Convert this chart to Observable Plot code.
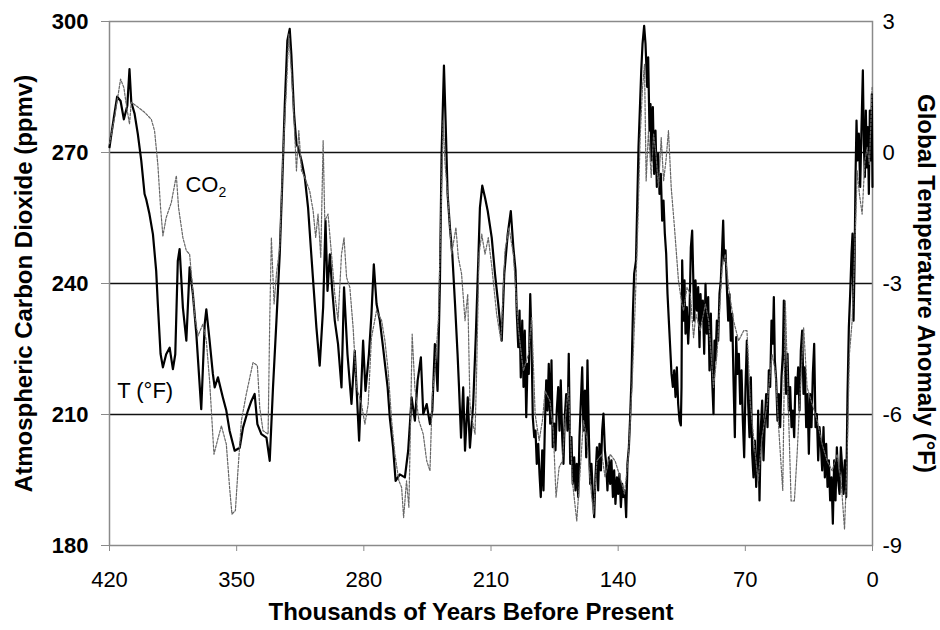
<!DOCTYPE html>
<html>
<head>
<meta charset="utf-8">
<script src="https://cdn.jsdelivr.net/npm/d3@7"></script>
<script src="https://cdn.jsdelivr.net/npm/@observablehq/plot@0.6"></script>
<style>
  html, body { margin: 0; padding: 0; background: #fff; }
  #chart { width: 940px; height: 630px; }
</style>
</head>
<body>
<div id="chart"></div>
<script>
// ---- Data ----
// Temperature record: age (thousands of years before present) and anomaly (°F)
const ageT = [420.0,419.1,417.6,415.8,413.9,412.1,410.2,409.0,408.0,406.2,
404.4,402.5,400.7,399.8,398.0,396.1,394.3,393.4,391.9,390.6,
388.8,386.9,385.1,383.8,382.4,381.4,379.6,377.7,375.9,374.1,
372.2,369.5,367.6,366.7,364.9,363.1,362.1,360.3,357.6,355.7,
353.9,351.1,348.3,346.5,343.8,341.9,340.1,338.6,336.4,333.6,
331.8,330.0,328.1,326.3,325.0,323.5,322.1,320.8,319.9,318.4,
317.1,316.2,314.3,312.5,310.7,309.2,307.9,306.1,304.3,302.4,
301.1,300.0,298.7,297.5,296.0,294.2,292.3,290.9,289.0,286.8,
285.0,282.6,280.4,279.1,277.2,275.8,274.5,273.0,271.2,269.4,
266.9,265.7,263.9,262.5,260.2,257.4,255.6,253.7,251.9,250.4,
248.6,247.3,245.4,243.6,242.3,240.9,239.4,238.1,237.2,235.9,
235.0,233.9,232.6,231.3,229.8,228.4,227.6,226.5,225.3,224.3,
222.8,221.6,219.8,218.4,217.0,216.1,214.8,213.3,211.8,209.6,
207.8,206.0,204.1,202.7,200.8,199.1,197.7,
196.5,195.8,195.0,194.3,193.6,192.8,192.1,191.4,190.6,189.9,
189.2,188.4,187.7,187.0,186.2,185.5,184.8,184.0,183.3,182.6,
181.8,181.1,180.4,179.6,178.9,178.2,177.4,176.7,176.0,175.2,
174.5,173.8,173.0,172.3,171.6,170.8,170.1,169.4,168.6,167.9,
167.2,166.4,165.7,165.0,164.2,163.5,162.8,162.0,161.3,160.6,
159.8,159.1,158.3,157.6,156.9,156.1,155.4,154.7,153.9,153.2,
152.5,151.7,151.0,150.3,149.5,148.8,148.1,147.3,146.6,145.9,
145.1,144.4,143.7,142.9,142.2,141.5,140.7,140.0,139.3,138.5,
137.8,137.1,136.3,135.6,134.9,134.1,133.4,132.7,131.9,131.2,
130.2,128.8,127.3,126.6,125.7,
124.95,124.03,123.48,122.75,122.20,121.65,120.91,120.18,119.45,118.71,
117.98,117.24,116.51,115.78,115.04,114.31,113.57,112.84,112.11,111.37,
110.64,109.90,109.17,108.44,107.70,106.97,106.23,105.50,105.13,104.77,
104.03,103.48,102.93,102.20,101.46,100.73,99.99,99.26,98.71,98.16,
97.43,96.69,95.96,95.22,94.67,94.12,93.39,92.65,91.92,91.19,
90.45,89.72,88.99,88.25,87.52,86.97,86.42,85.68,84.95,84.22,
83.48,82.75,82.20,81.65,80.91,80.18,79.44,78.71,77.98,77.24,
76.51,75.77,75.04,74.31,73.57,72.84,72.10,71.37,70.64,69.90,
69.17,68.43,67.70,66.97,66.23,65.50,64.77,64.03,63.30,
62.93,62.20,61.46,60.73,60.00,59.26,58.53,57.79,57.06,56.33,
55.59,54.86,54.31,53.76,53.02,52.29,51.56,50.82,50.09,49.35,
48.80,48.25,47.52,46.78,46.05,45.32,44.58,43.85,43.11,42.38,
41.65,40.91,40.18,39.44,38.71,37.98,37.24,36.51,35.77,35.04,
34.31,33.57,32.84,32.10,31.37,30.64,29.90,29.17,28.43,27.70,
26.97,26.23,25.50,24.76,24.03,23.30,22.56,21.83,21.09,20.36,
19.63,18.89,18.16,17.42,16.69,15.96,15.22,14.49,13.75,13.02,
12.29,11.55,11.00,10.45,9.90,9.35,8.80,8.25,7.52,6.78,
6.05,5.31,4.76,4.21,3.66,3.11,2.56,2.01,1.46,0.91,
0.36,0.0];
const tempF = [0.12,0.38,0.80,1.28,1.18,0.76,1.07,1.91,1.15,0.89,
0.42,-0.19,-0.95,-1.07,-1.41,-1.87,-2.71,-3.47,-4.61,-4.92,
-4.62,-4.47,-4.96,-4.62,-2.48,-2.21,-3.55,-4.31,-2.63,-3.24,
-4.16,-5.88,-3.93,-3.59,-4.31,-5.07,-5.38,-5.15,-5.61,-5.91,
-6.37,-6.83,-6.76,-6.30,-5.91,-5.69,-5.53,-6.22,-6.45,-6.53,
-7.06,-5.38,-3.85,-2.33,-0.80,1.11,2.56,2.83,2.25,0.88,
0.19,0.12,-0.19,-0.57,-1.26,-2.17,-2.94,-4.01,-4.88,-3.55,
-1.56,-3.17,-2.33,-3.09,-3.85,-4.39,-5.38,-3.09,-4.62,-5.76,
-4.54,-6.60,-4.31,-5.46,-4.62,-3.70,-2.56,-3.47,-3.85,-4.47,
-5.38,-6.07,-6.76,-7.52,-7.37,-7.44,-6.83,-5.61,-6.14,-5.23,
-4.69,-5.99,-5.76,-6.22,-5.91,-4.39,-5.46,-2.94,-0.04,1.99,
0.73,-0.95,-1.72,-2.33,-3.47,-4.62,-5.38,-6.53,-5.38,-6.83,
-5.61,-6.76,-5.76,-4.24,-2.48,-1.26,-0.76,-1.03,-1.34,-1.95,
-2.78,-3.47,-4.31,-2.78,-1.87,-1.34,-2.17,
-2.70,-3.69,-4.46,-3.62,-5.15,-3.85,-5.37,-4.08,-6.06,-4.84,
-5.07,-3.24,-4.30,-6.06,-6.52,-6.37,-7.13,-6.67,-7.36,-7.89,
-6.82,-7.74,-6.37,-5.22,-5.91,-4.84,-6.21,-4.76,-6.75,-6.21,
-6.82,-5.91,-5.37,-6.37,-5.22,-6.52,-7.13,-6.06,-5.53,-6.37,
-4.61,-7.13,-6.52,-7.59,-6.98,-7.74,-7.13,-7.89,-6.52,-5.76,
-4.92,-6.37,-5.45,-6.98,-4.76,-6.52,-7.59,-7.13,-7.89,-8.35,
-7.44,-6.75,-7.74,-6.67,-7.28,-6.37,-5.98,-6.82,-7.13,-7.74,
-6.98,-7.59,-7.05,-7.89,-7.28,-8.05,-7.44,-7.82,-7.36,-8.12,
-7.59,-7.89,-7.74,-8.35,-7.13,-6.75,-6.06,-5.22,-3.69,-2.78,
-2.48,0.12,1.87,2.48,2.90,
2.49,1.50,2.18,0.50,1.11,-0.18,1.04,-0.49,0.50,-0.79,
-0.03,-0.95,-0.49,-1.56,-1.10,-1.86,-2.32,-3.24,-3.85,-4.46,
-5.07,-5.37,-4.99,-5.60,-4.92,-5.76,-6.14,-6.25,-5.37,-2.47,
-3.85,-2.93,-4.15,-3.54,-4.38,-3.69,-2.17,-1.79,-2.78,-3.85,
-2.93,-3.62,-3.08,-4.46,-3.24,-3.85,-3.39,-4.61,-3.01,-4.15,
-3.31,-4.99,-3.69,-5.22,-5.99,-4.31,-4.76,-3.85,-4.31,-3.24,
-2.93,-2.17,-1.56,-2.47,-2.24,-3.08,-3.85,-3.24,-4.31,-3.69,
-5.22,-6.52,-4.23,-5.07,-4.61,-5.76,-4.99,-6.14,-6.98,-5.37,
-4.31,-5.76,-6.52,-5.15,-6.90,-7.44,-6.60,-7.66,-6.90,
-5.91,-7.97,-6.29,-5.68,-7.05,-6.14,-5.53,-6.29,-4.99,-5.37,
-3.85,-4.38,-3.31,-4.76,-5.22,-6.14,-5.53,-6.29,-5.15,-4.61,
-3.39,-4.92,-5.53,-4.61,-5.91,-5.37,-6.29,-5.91,-6.52,-5.15,
-5.53,-4.92,-5.91,-4.53,-4.08,-5.53,-4.92,-6.29,-5.53,-6.90,
-5.53,-6.29,-5.07,-4.38,-6.29,-5.99,-7.05,-6.29,-6.67,-7.28,
-6.29,-7.44,-6.67,-7.66,-7.05,-7.97,-7.44,-8.50,-7.05,-7.97,
-6.75,-7.51,-7.82,-6.75,-7.21,-7.82,-7.05,-7.89,-5.53,-4.00,
-3.24,-2.32,-1.86,-3.85,-2.63,-0.57,0.73,-0.18,0.43,-0.79,
0.58,1.88,0.20,-0.56,0.96,-0.34,0.58,-0.95,0.96,-0.18,
1.34,-0.79];

// CO2 record: age (thousands of years before present) and concentration (ppmv)
const ageCO2 = [420.0,417.2,415.8,413.9,412.1,410.8,409.0,408.0,405.3,400.7,
397.0,395.2,393.4,391.9,390.6,388.8,386.0,383.2,382.0,379.6,
377.7,375.9,374.6,373.2,371.3,368.6,366.7,364.9,363.6,362.5,
360.6,358.4,355.7,353.9,352.6,350.7,349.3,347.4,344.7,341.0,
338.6,337.3,335.5,332.7,331.8,330.9,329.4,328.1,326.3,324.5,
322.6,321.3,319.9,318.4,317.1,315.8,314.3,312.5,309.8,307.9,
306.5,305.2,303.7,302.4,301.5,299.7,297.8,296.0,294.2,292.3,
290.9,289.5,287.7,285.9,284.0,281.3,279.4,277.6,275.8,273.0,
270.2,268.4,266.6,264.7,262.9,260.7,259.2,258.1,256.5,255.2,
254.1,253.4,251.9,249.7,247.3,245.4,243.6,242.3,240.9,239.0,
237.2,236.3,235.4,233.5,231.7,229.3,228.0,226.2,224.3,222.8,
221.6,220.3,218.8,217.9,216.6,215.1,213.3,211.5,209.6,206.9,
204.5,202.3,200.1,197.7,195.0,192.2,189.4,187.6,185.7,183.5,
181.7,180.2,177.5,175.7,174.2,172.5,170.7,169.2,167.4,165.2,
162.8,160.9,159.1,157.3,155.4,153.6,151.7,149.0,147.2,144.4,
141.7,138.9,136.5,134.3,132.4,130.6,129.1,127.9,126.6,125.5,
124.6,123.3,121.8,120.5,119.2,117.8,116.3,115.0,113.7,112.3,
110.8,109.0,106.8,104.9,104.0,102.1,100.3,98.5,97.2,94.8,
92.0,90.2,87.5,85.6,84.3,82.8,81.0,79.2,76.5,73.7,
70.9,69.1,67.2,64.9,63.0,60.8,58.0,55.3,53.5,51.3,
49.4,48.0,46.1,44.8,43.0,41.5,39.7,37.9,36.0,33.2,
30.5,27.7,25.0,22.2,19.5,17.3,15.4,13.9,12.7,11.2,
9.9,8.4,7.2,5.7,4.2,2.9,1.7,0.2];
const co2 = [272,278.0,281.8,286.8,284.9,281.1,276.5,281.5,280.7,279.2,
277.6,275.0,267.3,257.4,250.9,255.1,258.5,264.7,257.4,250.5,
247.5,246.7,240.6,233.0,228.0,230.7,226.9,217.7,208.6,200.9,
204.0,207.4,203.2,193.3,187.2,188.0,197.1,208.6,214.7,221.9,
221.2,211.6,206.3,205.5,231.5,250.5,235.3,242.2,248.3,269.6,
284.9,297.1,288.7,277.3,265.8,275.0,265.8,264.3,261.2,256.6,
250.5,255.9,246.0,272.7,254.4,255.9,246.7,237.6,231.5,246.7,
250.5,241.4,239.1,229.9,216.2,212.4,207.8,212.4,227.6,233.8,
231.5,226.9,220.0,208.6,200.9,194.8,193.3,186.4,194.8,188.7,
212.4,228.4,216.2,208.6,205.5,199.4,197.1,214.7,220.0,231.5,
262.0,277.3,268.1,258.2,246.7,252.8,246.0,242.2,231.5,237.6,
212.4,208.6,205.5,220.0,246.7,251.3,246.7,250.5,244.0,233.0,
226.9,247.5,252.8,246.7,229.9,220.0,223.8,232.2,210.1,204.0,
208.6,215.4,213.1,206.3,191.0,197.9,199.4,208.6,216.2,194.8,
185.6,197.1,208.6,204.7,194.8,187.2,199.4,200.9,195.6,200.9,
199.4,195.6,191.8,200.9,216.2,235.3,254.4,273.4,284.9,290.2,
263.5,275.0,264.3,274.2,269.6,262.0,273.4,263.5,268.1,275.0,
262.0,252.8,240.6,235.3,233.8,239.1,237.6,227.6,233.0,229.2,
235.3,231.5,216.2,223.8,233.0,243.7,246.7,239.1,231.5,226.9,
229.2,229.2,212.4,202.4,194.8,204.7,212.4,223.8,220.0,204.7,
192.6,236.0,208.6,190.2,190.2,200.9,216.2,229.9,216.2,212.4,
208.6,203.2,199.4,197.1,200.9,194.8,183.7,200.9,223.8,231.5,
246.7,265.8,260.5,255.9,268.1,271.2,267.3,284.9];

// Axis ticks
const xTicks = [420, 350, 280, 210, 140, 70, 0];
const co2Ticks = [180, 210, 240, 270, 300];
const gridLines = [210, 240, 270];

// Temperature axis shares the frame: 0 °F ↔ 270 ppmv, 1 °F ↔ 10 ppmv
const toCO2Scale = t => 270 + t * 10;
const toTemp = v => (v - 270) / 10;

const tRows = ageT.map((a, i) => ({age: a, value: toCO2Scale(tempF[i])}));
const cRows = ageCO2.map((a, i) => ({age: a, value: co2[i]}));

const FONT = "'Liberation Sans', Arial, Helvetica, sans-serif";
const GRAY = "#8a8a8a";

const chart = Plot.plot({
  width: 940,
  height: 630,
  marginLeft: 109,
  marginRight: 68,
  marginTop: 21,
  marginBottom: 85,
  style: {fontFamily: FONT, background: "#fff", color: "#000"},
  x: {domain: [420, 0]},
  y: {domain: [180, 300]},
  marks: [
    Plot.ruleY(gridLines, {stroke: "#111", strokeWidth: 1.5}),
    Plot.frame({stroke: GRAY, strokeWidth: 1.5}),
    Plot.axisY({
      anchor: "left", ticks: co2Ticks, tickSize: 8, tickPadding: 13,
      stroke: GRAY, fill: "#000", fontSize: 22, fontWeight: "bold", label: null
    }),
    Plot.axisY({
      anchor: "right", ticks: co2Ticks, tickSize: 0, tickPadding: 10,
      tickFormat: d => String(toTemp(d)), fill: "#000", fontSize: 22, label: null
    }),
    Plot.axisX({
      ticks: xTicks, tickSize: 6, tickPadding: 20,
      stroke: GRAY, fill: "#000", fontSize: 22, label: null
    }),
    Plot.line(tRows, {x: "age", y: "value", stroke: "#000", strokeWidth: 2.2, strokeLinejoin: "round"}),
    Plot.line(cRows, {x: "age", y: "value", stroke: "#666", strokeWidth: 1.2, strokeDasharray: "2.5,1.5"}),
    Plot.text([{age: 378.2, value: 262.6}], {x: "age", y: "value", text: () => "CO2", textAnchor: "start", fontSize: 22, fill: "#000"}),
    Plot.text([{age: 415.8, value: 215.5}], {x: "age", y: "value", text: () => "T (°F)", textAnchor: "start", fontSize: 22, fill: "#000"}),
    Plot.text(["Atmospheric Carbon Dioxide (ppmv)"], {frameAnchor: "left", textAnchor: "middle", dx: -85, rotate: -90, fontSize: 24, fontWeight: "bold", fill: "#000"}),
    Plot.text(["Global Temperature Anomaly (°F)"], {frameAnchor: "right", textAnchor: "middle", dx: 53, rotate: 90, fontSize: 24, fontWeight: "bold", fill: "#000"}),
    Plot.text(["Thousands of Years Before Present"], {frameAnchor: "bottom", textAnchor: "middle", dx: -20, dy: 74, fontSize: 24, fontWeight: "bold", fill: "#000"})
  ]
});

// Render the "2" of CO2 as a subscript
chart.querySelectorAll("text").forEach(t => {
  if (t.textContent === "CO2") {
    t.textContent = "CO";
    const sub = document.createElementNS("http://www.w3.org/2000/svg", "tspan");
    sub.setAttribute("dy", "0.35em");
    sub.setAttribute("font-size", "14");
    sub.textContent = "2";
    t.appendChild(sub);
  }
});

document.getElementById("chart").appendChild(chart);
</script>
</body>
</html>
